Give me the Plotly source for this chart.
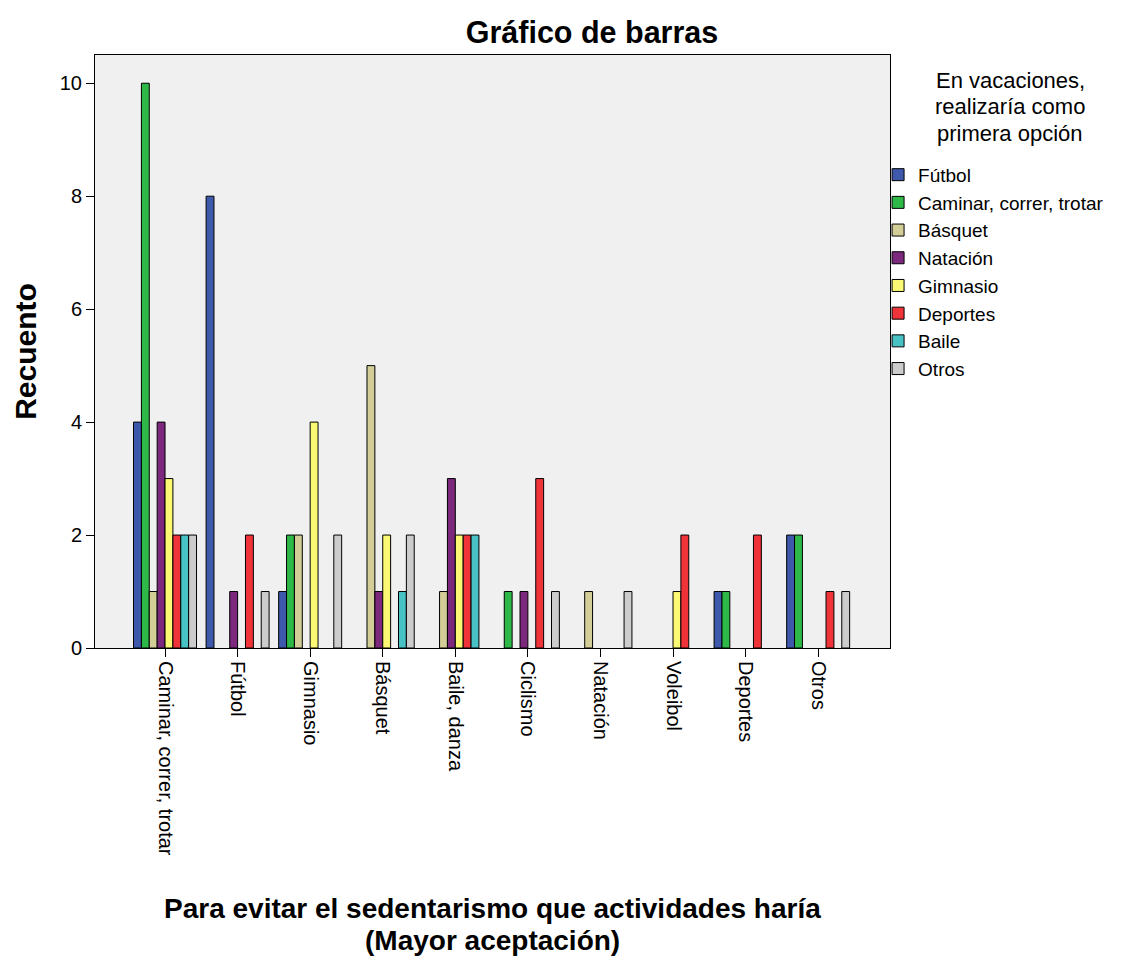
import plotly.graph_objects as go

# Categories on the x axis
categories = ["Caminar, correr, trotar", "Fútbol", "Gimnasio", "Básquet", "Baile, danza",
              "Ciclismo", "Natación", "Voleibol", "Deportes", "Otros"]

# Series (legend): counts per category
futbol   = [4, 8, 1, 0, 0, 0, 0, 0, 1, 2]
caminar  = [10, 0, 2, 0, 0, 1, 0, 0, 1, 2]
basquet  = [1, 0, 2, 5, 1, 0, 1, 0, 0, 0]
natacion = [4, 1, 0, 1, 3, 1, 0, 0, 0, 0]
gimnasio = [3, 0, 4, 2, 2, 0, 0, 1, 0, 0]
deportes = [2, 2, 0, 0, 2, 3, 0, 2, 2, 1]
baile    = [2, 0, 0, 1, 2, 0, 0, 0, 0, 0]
otros    = [2, 1, 2, 2, 0, 1, 1, 0, 0, 1]

series_names = ["Fútbol", "Caminar, correr, trotar", "Básquet", "Natación",
                "Gimnasio", "Deportes", "Baile", "Otros"]
series_values = [futbol, caminar, basquet, natacion, gimnasio, deportes, baile, otros]
series_colors = ["#3E58AC", "#2EB848", "#D3CE97", "#7C287D",
                 "#FBF873", "#EF3338", "#48C2C5", "#CCCCCC"]

y_ticks = [0, 2, 4, 6, 8, 10]

legend_title_lines = ["En vacaciones,", "realizaría como", "primera opción"]
x_title_lines = ["Para evitar el sedentarismo que actividades haría", "(Mayor aceptación)"]

FONT = "Liberation Sans, Arial, sans-serif"

fig = go.Figure()
for name, vals, col in zip(series_names, series_values, series_colors):
    fig.add_trace(go.Bar(
        x=categories, y=[v if v else None for v in vals], name=name,
        marker=dict(color=col, line=dict(color="#000000", width=1)),
    ))

annotations = []
# legend title (three centred lines)
for i, line in enumerate(legend_title_lines):
    annotations.append(dict(
        text=line, xref="paper", yref="paper", x=(1010-95)/795,
        y=(648-(80+26.5*i))/593, xanchor="center", yanchor="middle",
        showarrow=False, font=dict(family=FONT, size=22, color="#000000")))
# x-axis title (two centred bold lines)
for i, line in enumerate(x_title_lines):
    annotations.append(dict(
        text="<b>%s</b>" % line, xref="paper", yref="paper", x=0.5,
        y=(648-(908+32*i))/593, xanchor="center", yanchor="middle",
        showarrow=False, font=dict(family=FONT, size=28, color="#000000")))

fig.update_layout(
    width=1128, height=956,
    barmode="group", bargap=0.132, bargroupgap=0,
    paper_bgcolor="white", plot_bgcolor="#F0F0F0",
    margin=dict(l=95, r=238, t=55, b=308),
    font=dict(family=FONT, size=20, color="#000000"),
    title=dict(text="<b>Gráfico de barras</b>", x=592/1128, xanchor="center",
               xref="container", yref="container", y=1-32/956, yanchor="middle",
               font=dict(family=FONT, size=30.5, color="#000000")),
    showlegend=True,
    legend=dict(x=0.985, xanchor="left", y=0.830, yanchor="top",
                traceorder="normal", itemwidth=30, bgcolor="rgba(0,0,0,0)",
                font=dict(family=FONT, size=19, color="#000000"),
                tracegroupgap=0),
    annotations=annotations,
)

fig.update_xaxes(
    range=[-0.965, 9.99], tickangle=90, ticks="outside", ticklen=8, tickcolor="#000000",
    showline=True, linecolor="#000000", linewidth=1, mirror=True,
    showgrid=False, zeroline=False,
    tickfont=dict(family=FONT, size=20, color="#000000"),
)
fig.update_yaxes(
    range=[0, 10.5], tickvals=y_ticks, ticks="outside", ticklen=8, tickcolor="#000000",
    showline=True, linecolor="#000000", linewidth=1, mirror=True,
    showgrid=False, zeroline=False,
    tickfont=dict(family=FONT, size=20, color="#000000"),
    title=dict(text="<b>Recuento</b>", font=dict(family=FONT, size=30, color="#000000"),
               standoff=14),
)

fig.write_html("out.html")
